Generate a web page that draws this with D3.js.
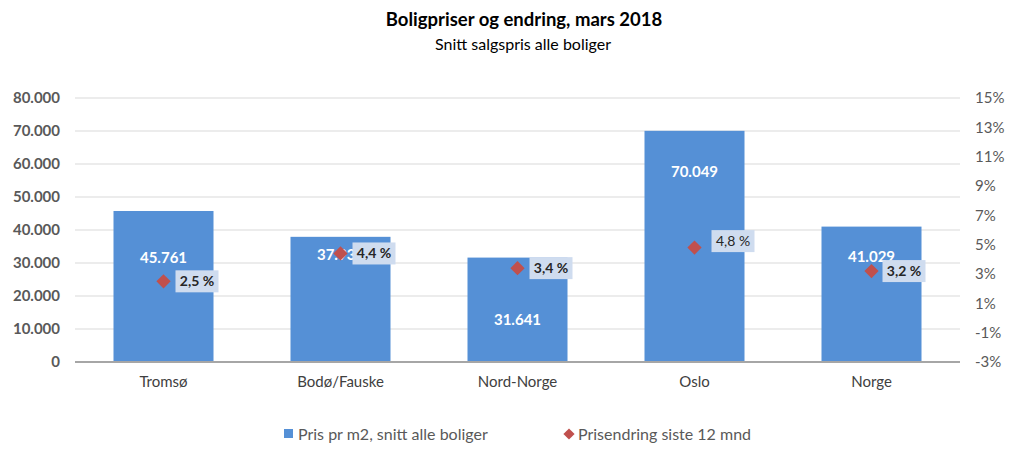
<!DOCTYPE html>
<html><head><meta charset="utf-8">
<script src="https://cdn.jsdelivr.net/npm/d3@7"></script>
<style>
body{margin:0;background:#fff;}
svg{font-family:Lato,"Open Sans",sans-serif;}
</style></head><body>
<svg id="chart" width="1024" height="449"></svg>
<script>
const categories = ["Tromsø","Bodø/Fauske","Nord-Norge","Oslo","Norge"];
const prices = [45761, 37930, 31641, 70049, 41029];
const changes = [2.5, 4.4, 3.4, 4.8, 3.2];
const leftTicks = [0,10000,20000,30000,40000,50000,60000,70000,80000];
const rightTicks = [-3,-1,1,3,5,7,9,11,13,15];
const title = "Boligpriser og endring, mars 2018";
const subtitle = "Snitt salgspris alle boliger";
const legendLabels = ["Pris pr m2, snitt alle boliger","Prisendring siste 12 mnd"];

// layout (pixel offsets for labels, not data)
const barLabelDy = [47, 18, 62, 41, 30];
const pctBoxDx = [12, 12, 12, 17, 11];
const pctBoxDy = [0, 0, 0, -6.5, 0];
const pctBold = [true, true, true, false, true];

const svg = d3.select("#chart");
const L = 75, R = 960, T = 98, B = 362;
const x = d3.scaleBand().domain(categories).range([L, R]).paddingInner(0.435).paddingOuter(0.2175);
const y = d3.scaleLinear().domain([0, 80000]).range([B, T]);
const y2 = d3.scaleLinear().domain([-3, 15]).range([B, T]);

const fmtN = v => d3.format(",")(v).replace(/,/g, ".");
const fmtP = v => d3.format(".1f")(v).replace(".", ",") + " %";

// title
svg.append("text").attr("x", 524).attr("y", 26).attr("text-anchor","middle")
  .attr("font-size", 18.5).attr("font-weight", "bold").attr("fill", "#000").text(title);
svg.append("text").attr("x", 523).attr("y", 50).attr("text-anchor","middle")
  .attr("font-size", 16).attr("fill", "#000").text(subtitle);

// gridlines
svg.append("g").selectAll("line").data(leftTicks.filter(d => d > 0)).join("line")
  .attr("x1", L).attr("x2", R).attr("y1", d => y(d)).attr("y2", d => y(d))
  .attr("stroke", "#d9d9d9").attr("stroke-width", 1);

// left axis
const gl = svg.append("g").attr("transform", `translate(${L},0)`)
  .call(d3.axisLeft(y).tickValues(leftTicks).tickFormat(fmtN).tickSize(0).tickPadding(15));
gl.select(".domain").remove();
gl.selectAll("text").attr("font-size", 15).attr("font-weight", "bold").attr("fill", "#595959")
  .attr("font-family", "Lato, sans-serif");

// right axis
const gr = svg.append("g").attr("transform", `translate(${R},0)`)
  .call(d3.axisRight(y2).tickValues(rightTicks).tickFormat(d => d + "%").tickSize(0).tickPadding(15));
gr.select(".domain").remove();
gr.selectAll("text").attr("font-size", 15).attr("fill", "#595959").attr("font-family", "Lato, sans-serif");

// bars
svg.append("g").selectAll("rect").data(categories).join("rect")
  .attr("x", d => x(d)).attr("width", x.bandwidth())
  .attr("y", (d,i) => y(prices[i])).attr("height", (d,i) => y(0) - y(prices[i]))
  .attr("fill", "#5590d6");

// baseline
svg.append("line").attr("x1", L).attr("x2", R).attr("y1", B).attr("y2", B)
  .attr("stroke", "#a6a6a6").attr("stroke-width", 2);

// x labels
const gx = svg.append("g").attr("transform", `translate(0,${B})`)
  .call(d3.axisBottom(x).tickSize(0).tickPadding(14));
gx.select(".domain").remove();
gx.selectAll("text").attr("font-size", 15).attr("fill", "#404040").attr("font-family", "Lato, sans-serif");

// bar value labels
svg.append("g").selectAll("text").data(categories).join("text")
  .attr("x", d => x(d) + x.bandwidth()/2)
  .attr("y", (d,i) => y(prices[i]) + barLabelDy[i])
  .attr("dy", "0.35em").attr("text-anchor", "middle")
  .attr("font-size", 15).attr("font-weight", "bold").attr("fill", "#fff")
  .text((d,i) => fmtN(prices[i]));

// diamonds
const sym = d3.symbol().type(d3.symbolDiamond2).size(130);
svg.append("g").selectAll("path").data(categories).join("path")
  .attr("d", sym)
  .attr("transform", (d,i) => `translate(${x(d) + x.bandwidth()/2},${y2(changes[i])})`)
  .attr("fill", "#c0504d");

// pct labels
const pg = svg.append("g").selectAll("g").data(categories).join("g")
  .attr("transform", (d,i) => `translate(${x(d) + x.bandwidth()/2 + pctBoxDx[i]},${y2(changes[i]) + pctBoxDy[i]})`);
pg.append("rect").attr("x", 0).attr("y", -11).attr("width", 43).attr("height", 22).attr("fill", "#cfdcef");
pg.append("text").attr("x", 21.5).attr("dy", "0.35em").attr("text-anchor", "middle")
  .attr("font-size", 14).attr("font-weight", (d,i) => pctBold[i] ? "bold" : "normal").attr("fill", "#262626")
  .text((d,i) => fmtP(changes[i]));

// legend
const lg = svg.append("g");
lg.append("rect").attr("x", 284).attr("y", 429).attr("width", 9).attr("height", 9).attr("fill", "#5590d6");
lg.append("text").attr("x", 298).attr("y", 434).attr("dy", "0.35em").attr("font-size", 16).attr("fill", "#595959").text(legendLabels[0]);
lg.append("path").attr("d", d3.symbol().type(d3.symbolDiamond2).size(80))
  .attr("transform", "translate(569,434)").attr("fill", "#c0504d");
lg.append("text").attr("x", 578).attr("y", 434).attr("dy", "0.35em").attr("font-size", 16).attr("fill", "#595959").text(legendLabels[1]);
</script>
</body></html>
